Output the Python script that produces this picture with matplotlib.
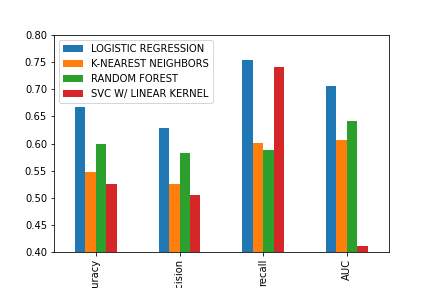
import numpy as np
import matplotlib
matplotlib.use('Agg')
import matplotlib.pyplot as plt

metrics = ['accuracy', 'precision', 'recall', 'AUC']
models = ['LOGISTIC REGRESSION', 'K-NEAREST NEIGHBORS', 'RANDOM FOREST', 'SVC W/ LINEAR KERNEL']
logreg = [0.667, 0.628, 0.754, 0.706]
knn = [0.547, 0.525, 0.601, 0.606]
rf = [0.599, 0.582, 0.588, 0.641]
svc = [0.525, 0.505, 0.741, 0.411]
colors = ['#1f77b4', '#ff7f0e', '#2ca02c', '#d62728']

fig = plt.figure(figsize=(6, 4), dpi=72)
ax = fig.add_axes([0.125, 0.125, 0.775, 0.753])

x = np.arange(len(metrics))
w = 0.125
for i, (vals, name) in enumerate(zip([logreg, knn, rf, svc], models)):
    ax.bar(x + (i - 1.5) * w, vals, width=w, color=colors[i], label=name)

ax.set_xticks(x)
ax.set_xticklabels(metrics, rotation=90)
ax.set_xlim(-0.5, 3.5)
ax.set_ylim(0.40, 0.80)
ax.set_yticks(np.arange(0.40, 0.801, 0.05))
ax.legend(loc='upper left')

fig.savefig('out.png', dpi=72)
